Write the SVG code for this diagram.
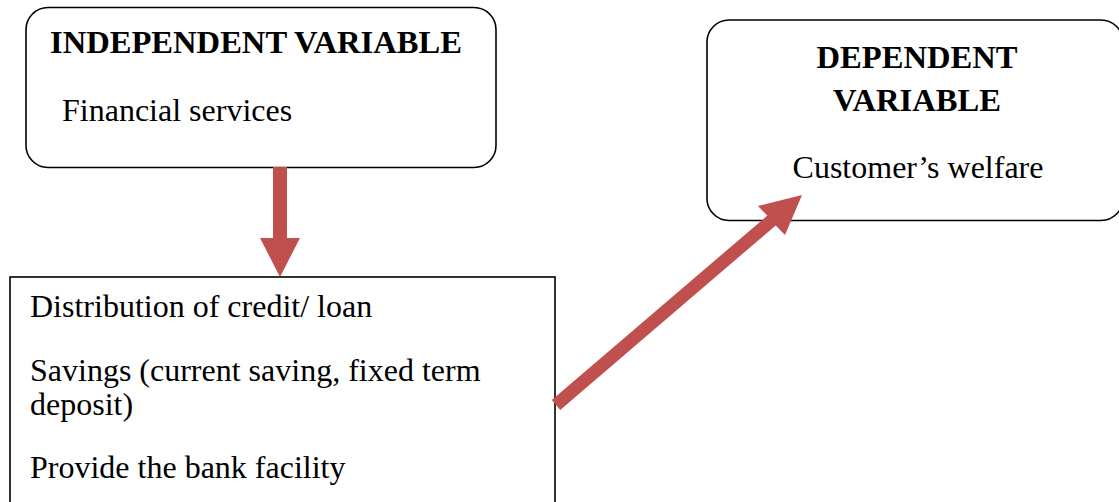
<svg xmlns="http://www.w3.org/2000/svg" width="1119" height="502" viewBox="0 0 1119 502">
<style>
.box{fill:#fff;stroke:#000;stroke-width:1.6}
.t{font-family:"Liberation Serif","Times New Roman",serif;font-size:32px;fill:#000}
.b{font-weight:bold;font-size:32.6px}
.arr{fill:#C0504D;stroke:none}
</style>
<rect width="1119" height="502" fill="#fff"/>
<g id="independent">
<rect class="box" x="26" y="7.5" width="470" height="160" rx="22"/>
<text class="t b" x="50" y="53">INDEPENDENT VARIABLE</text>
<text class="t" x="62" y="121">Financial services</text>
</g>
<g id="dependent">
<rect class="box" x="707" y="20" width="416" height="200.5" rx="22"/>
<text class="t b" x="917" y="68" text-anchor="middle">DEPENDENT</text>
<text class="t b" x="917" y="111" text-anchor="middle">VARIABLE</text>
<text class="t" x="918" y="178" text-anchor="middle">Customer’s welfare</text>
</g>
<g id="services">
<rect class="box" x="10" y="277" width="545" height="240"/>
<text class="t" x="30" y="317">Distribution of credit/ loan</text>
<text class="t" x="30" y="381">Savings (current saving, fixed term</text>
<text class="t" x="30" y="415">deposit)</text>
<text class="t" x="30" y="478">Provide the bank facility</text>
</g>
<g id="connectors">
<polygon class="arr" points="273,167 287,167 287,238 300,238 280,277 260,238 273,238"/>
<polygon class="arr" points="551.8,400.1 767.3,215.6 758,206 802,195 785,235 775.7,225.4 560.2,409.9"/>
</g>
</svg>
